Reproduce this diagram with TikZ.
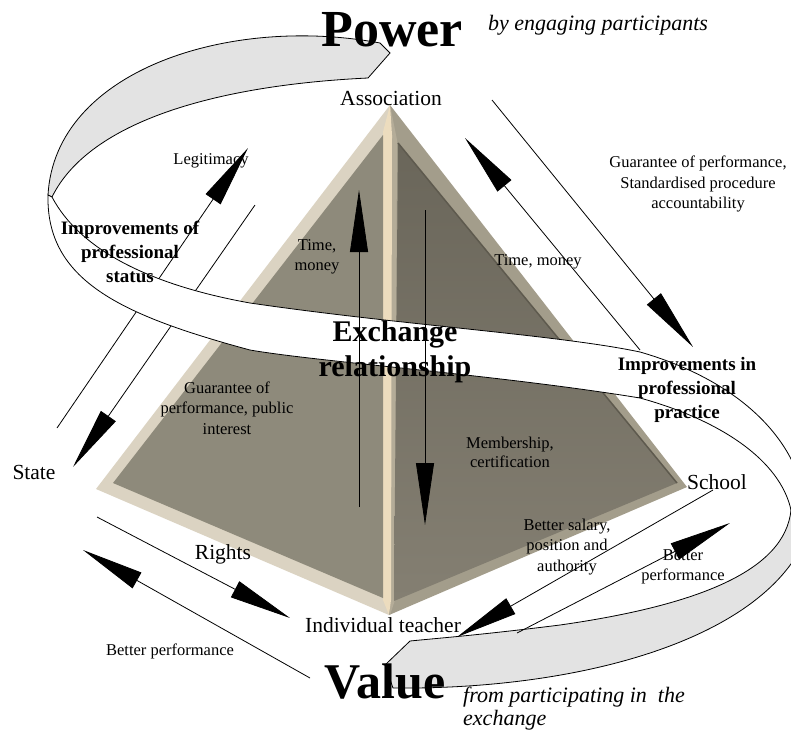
\documentclass[tikz,border=0pt]{standalone}
\usepackage{fontspec}
\setmainfont{Liberation Serif}
\usetikzlibrary{arrows.meta}
\definecolor{bandgray}{HTML}{E3E3E3}
\definecolor{lbevel}{HTML}{DBD3C2}
\definecolor{lface}{HTML}{8E8A7B}
\definecolor{rbevel}{HTML}{A39D8B}
\definecolor{rfacetop}{HTML}{6A665A}
\definecolor{rfacebot}{HTML}{847F72}
\definecolor{ridgecol}{HTML}{ECDCBE}
\definecolor{ridgedark}{HTML}{B4AC98}
\definecolor{rshadow}{HTML}{5E5A4E}
\begin{document}
\begin{tikzpicture}[x=1pt,y=-1pt,
  conn/.style={line width=0.8pt, -{Triangle[length=62pt,width=18pt]}},
  band/.style={draw=black, line width=0.8pt},
  lbl/.style={font=\fontsize{16.5}{20.5}\selectfont, align=center, inner sep=0pt},
  nm/.style={font=\fontsize{21.5}{25}\selectfont, inner sep=0pt},
  bld/.style={font=\fontsize{19}{24}\selectfont\bfseries, align=center, inner sep=0pt},
]
\useasboundingbox (0,0) rectangle (791,731);
\clip (0,0) rectangle (791,731);

% ---------- pyramid ----------
\fill[lbevel] (390,105) -- (96,489) -- (389,615) -- cycle;
\fill[rbevel] (390,105) -- (687,487) -- (389,615) -- cycle;
\fill[ridgedark] (390,105) -- (390,615) -- (395,600) -- (397,140) -- cycle;
\fill[ridgecol] (390,105) -- (383,132) -- (383,600) -- (389,615) -- (391,600) -- (392,135) -- cycle;
\fill[lface] (383,135) -- (113,483) -- (383,598) -- cycle;
\shade[top color=rfacetop, bottom color=rfacebot] (398,143) -- (677,483) -- (394,601) -- cycle;
\draw[rshadow, line width=1.5pt] (398,143) -- (677,483);

% ---------- arrows behind the band ----------
\coordinate (a1s) at (57,428);  \coordinate (a1e) at (248,148);
\coordinate (a2s) at (255,205); \coordinate (a2e) at (73,467);
\coordinate (a3s) at (492,100); \coordinate (a3e) at (693,347);
\coordinate (a4s) at (640,350); \coordinate (a4e) at (465,138);
\draw[conn] (a1s) -- (a1e);
\draw[conn] (a2s) -- (a2e);
\draw[conn] (a3s) -- (a3e);
\draw[conn] (a4s) -- (a4e);

% ---------- ribbon ----------
\path[band, fill=bandgray] (390,53) -- (380,43) .. controls (230,15) and (55,70) .. (48,195)
  -- (52,197) .. controls (90,120) and (220,85) .. (368,78) -- cycle;
\path[band, fill=white] (52,197) .. controls (80,250) and (150,285) .. (250,303)
  .. controls (400,325) and (560,335) .. (640,352)
  .. controls (720,375) and (780,420) .. (800,480) -- (791,510)
  .. controls (780,460) and (720,420) .. (640,398)
  .. controls (500,375) and (320,362) .. (250,350)
  .. controls (120,315) and (46,280) .. (48,195) -- cycle;
\path[band, fill=bandgray] (791,510) .. controls (785,570) and (700,605) .. (560,625)
  .. controls (480,635) and (440,638) .. (410,641) -- (385,665) -- (393,688)
  .. controls (580,690) and (760,640) .. (805,540) -- cycle;

% ---------- arrows in front ----------
\coordinate (a5s) at (713,490); \coordinate (a5e) at (457,637);
\coordinate (a6s) at (517,633); \coordinate (a6e) at (730,523);
\coordinate (a7s) at (97,517);  \coordinate (a7e) at (290,618);
\coordinate (a8s) at (310,678); \coordinate (a8e) at (83,550);
\coordinate (a9s) at (359,507); \coordinate (a9e) at (359,190);
\coordinate (a10s) at (425,210); \coordinate (a10e) at (425,525);
\draw[conn] (a5s) -- (a5e);
\draw[conn] (a6s) -- (a6e);
\draw[conn] (a7s) -- (a7e);
\draw[conn] (a8s) -- (a8e);
\draw[conn] (a9s) -- (a9e);
\draw[conn] (a10s) -- (a10e);

% ---------- texts ----------
\node[inner sep=0pt, font=\fontsize{52}{56}\selectfont\bfseries] (power) at (392,30) {Power};
\node[inner sep=0pt, font=\fontsize{22}{26}\selectfont\itshape] (byeng) at (598,25) {by engaging participants};
\node[nm] (assoc) at (391,98) {Association};
\node[lbl] (legit) at (211,161) {Legitimacy};
\node[bld] (impstat) at (130,252) {Improvements of\\professional\\status};
\node[lbl] (tm1) at (317,257) {Time,\\money};
\node[lbl] (guar1) at (698,184) {Guarantee of performance,\\Standardised procedure\\accountability};
\node[lbl] (tm2) at (538,262) {Time, money};
\node[inner sep=0pt, align=center, font=\fontsize{30}{35}\selectfont\bfseries] (exch) at (395,352) {Exchange\\relationship};
\node[bld] (impprac) at (687,390) {Improvements in\\professional\\practice};
\node[lbl] (guar2) at (227,408) {Guarantee of\\performance, public\\interest};
\node[nm] (state) at (34,472) {State};
\node[lbl, font=\fontsize{16.5}{19}\selectfont] (memb) at (510,452) {Membership,\\certification};
\node[nm] (school) at (717,482) {School};
\node[lbl] (salary) at (567,547) {Better salary,\\position and\\authority};
\node[lbl] (bperf1) at (683,567) {Better\\performance};
\node[nm] (rights) at (223,554) {Rights};
\node[nm] (indiv) at (383,625) {Individual teacher};
\node[lbl] (bperf2) at (170,651) {Better performance};
\node[inner sep=0pt, font=\fontsize{50}{54}\selectfont\bfseries] (value) at (385,682) {Value};
\node[inner sep=0pt, anchor=west, align=left, font=\fontsize{22}{23}\selectfont\itshape] (fromp) at (463,709) {from participating in\ \ the\\exchange};
\end{tikzpicture}
\end{document}
